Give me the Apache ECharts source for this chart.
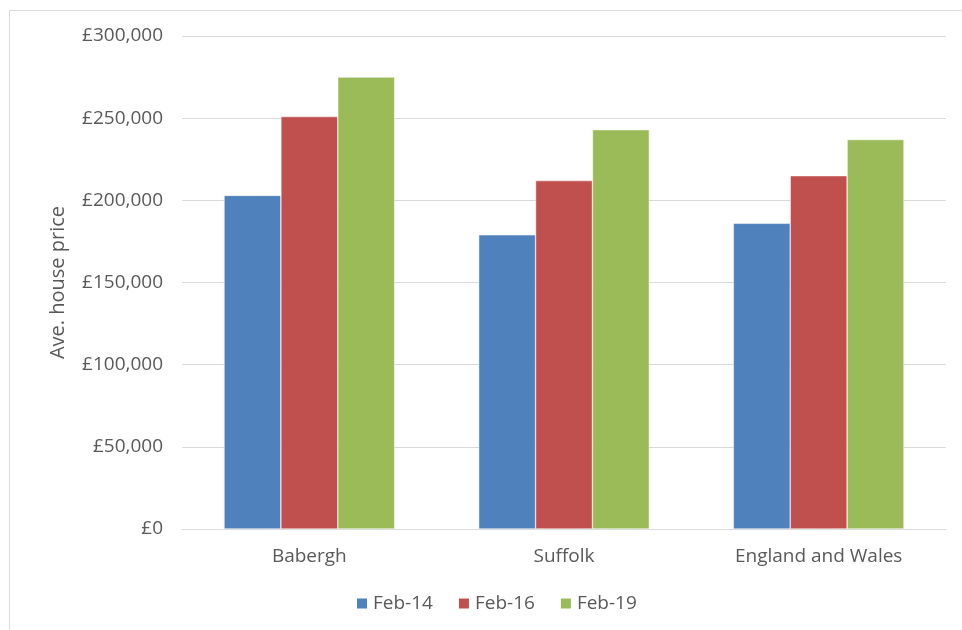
<!DOCTYPE html>
<html>
<head>
<meta charset="utf-8">
<script src="https://cdn.jsdelivr.net/npm/echarts@6/dist/echarts.min.js"></script>
<style>
  html, body { margin: 0; padding: 0; background: #fff; }
  #chart { width: 962px; height: 630px; }
</style>
</head>
<body>
<div id="chart"></div>
<script>
// Average house prices by area
const categories = ['Babergh', 'Suffolk', 'England and Wales'];
const feb14 = [203000, 179000, 186000];
const feb16 = [251000, 212000, 215000];
const feb19 = [275000, 243000, 237000];
const seriesNames = ['Feb-14', 'Feb-16', 'Feb-19'];
const seriesColors = ['#4f81bd', '#c0504d', '#9bbb59'];

const font = 'Open Sans';
const chart = echarts.init(document.getElementById('chart'));

function fmt(v) {
  return '£' + v.toLocaleString('en-GB');
}

const values = [feb14, feb16, feb19];

chart.setOption({
  animation: false,
  graphic: [{
    type: 'rect',
    shape: { x: 9.5, y: 10.5, width: 1000, height: 1000 },
    style: { fill: 'none', stroke: '#d9d9d9', lineWidth: 1 },
    silent: true
  }],
  grid: { left: 182, right: 16, top: 36, bottom: 101 },
  legend: {
    top: 589,
    left: 350,
    itemWidth: 12,
    itemHeight: 12,
    itemGap: 24,
    icon: 'rect',
    textStyle: { color: '#595959', fontSize: 19, fontFamily: font },
    data: seriesNames
  },
  xAxis: {
    type: 'category',
    data: categories,
    axisLine: { lineStyle: { color: '#d9d9d9' } },
    axisTick: { show: false },
    axisLabel: { color: '#595959', fontSize: 19, fontFamily: font, margin: 18 }
  },
  yAxis: {
    type: 'value',
    min: 0,
    max: 300000,
    interval: 50000,
    name: 'Ave. house price',
    nameLocation: 'middle',
    nameGap: 114,
    nameTextStyle: { color: '#595959', fontSize: 20, fontFamily: font },
    axisLine: { show: false },
    axisTick: { show: false },
    splitLine: { lineStyle: { color: '#d9d9d9' } },
    axisLabel: {
      color: '#595959', fontSize: 19, fontFamily: font, margin: 19,
      formatter: fmt
    }
  },
  series: seriesNames.map((name, i) => ({
    name: name,
    type: 'bar',
    data: values[i],
    barGap: '0%',
    barCategoryGap: '33%',
    itemStyle: { color: seriesColors[i], borderColor: '#ffffff', borderWidth: 0.5 }
  }))
});
</script>
</body>
</html>
